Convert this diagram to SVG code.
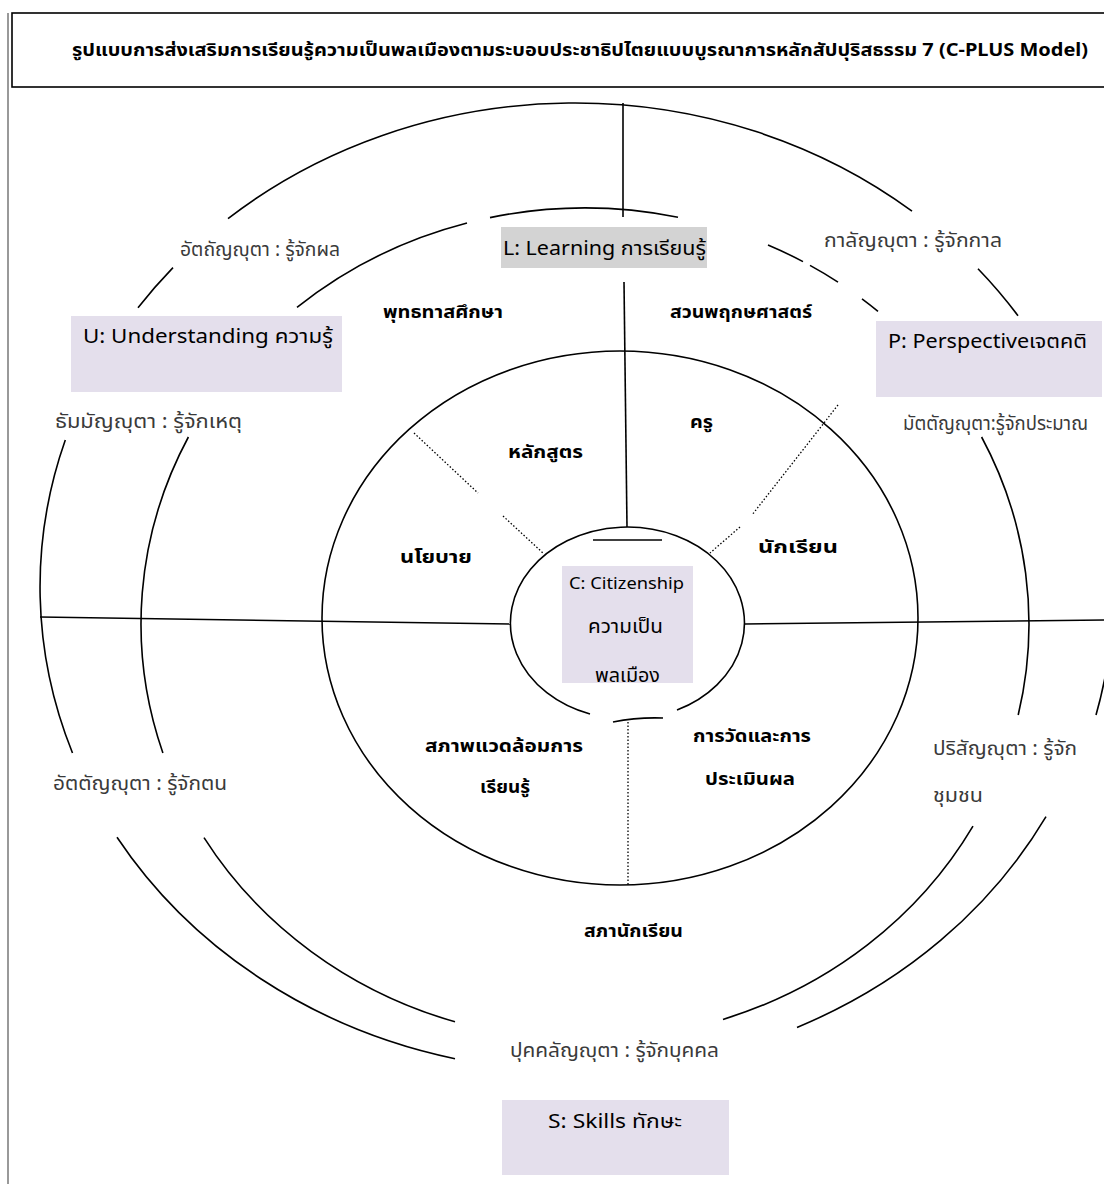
<svg xmlns="http://www.w3.org/2000/svg" width="1104" height="1184" viewBox="0 0 1104 1184">
<style>
.ln{fill:none;stroke:#000;stroke-width:1.6}
.dot{fill:none;stroke:#000;stroke-width:1.3;stroke-dasharray:1.5 2}
.t{font-family:"Noto Sans","Noto Sans Thai","DejaVu Sans",sans-serif;fill:#000}
.b{font-weight:bold;font-size:18px}
.g{fill:#3a3a3a;font-size:19px}
.box{fill:#e4dfec}
.m{text-anchor:middle}
</style>
<rect width="1104" height="1184" fill="#fff"/>
<line x1="8" y1="13" x2="8" y2="1184" stroke="#777" stroke-width="1.5"/>
<g id="title">
<rect x="12" y="13" width="1100" height="74" fill="#fff" stroke="#000" stroke-width="1.6"/>
<text class="t" x="72" y="56" font-size="18" font-weight="bold" textLength="1016" lengthAdjust="spacingAndGlyphs">รูปแบบการส่งเสริมการเรียนรู้ความเป็นพลเมืองตามระบอบประชาธิปไตยแบบบูรณาการหลักสัปปุริสธรรม 7 (C-PLUS Model)</text>
</g>
<g id="connectors">
<path class="ln" d="M228 218.6 A535 484 0 0 1 912 211.1"/>
<path class="ln" d="M173 267.6 A535 484 0 0 0 138 307.8"/>
<path class="ln" d="M978 268.7 A535 484 0 0 1 1018 315.7"/>
<path class="ln" d="M65.3 440 A535 484 0 0 0 72.5 753"/>
<path class="ln" d="M117 837.2 A535 484 0 0 0 455 1058.7"/>
<path class="ln" d="M797 1027.4 A535 484 0 0 0 1046 816.6"/>
<path class="ln" d="M1106 672 Q1102 694 1096 715"/>
<path class="ln" d="M297 307.4 A444 416 0 0 1 467 223"/>
<path class="ln" d="M490 217.6 A444 416 0 0 1 678 217.2"/>
<path class="ln" d="M768 245 A444 416 0 0 1 803 261.6"/>
<path class="ln" d="M810 265.4 A444 416 0 0 1 838 282.1"/>
<path class="ln" d="M862 298.9 A444 416 0 0 1 878 311.4"/>
<path class="ln" d="M188.4 437 A444 416 0 0 0 162.9 753"/>
<path class="ln" d="M204 837.6 A444 416 0 0 0 455 1021.8"/>
<path class="ln" d="M723 1019.4 A444 416 0 0 0 973 826.2"/>
<path class="ln" d="M981.6 437 A444 416 0 0 1 1018.2 715"/>
<ellipse class="ln" cx="620" cy="618" rx="298" ry="267"/>
<path class="ln" d="M590 714 A117 96 0 1 1 677 710"/>
<path class="ln" d="M613 722 Q638 717 663 718"/>
<line class="ln" x1="593" y1="540" x2="662" y2="540"/>
<line class="ln" x1="623" y1="103" x2="623" y2="217"/>
<line class="ln" x1="624" y1="282" x2="627" y2="527"/>
<line class="ln" x1="40" y1="617" x2="511" y2="624"/>
<line class="ln" x1="745" y1="624" x2="1104" y2="620"/>
<line class="dot" x1="414" y1="433" x2="478" y2="493"/>
<line class="dot" x1="503" y1="516" x2="543" y2="553"/>
<line class="dot" x1="838" y1="405" x2="752" y2="515"/>
<line class="dot" x1="740" y1="527" x2="710" y2="553"/>
<line class="dot" x1="628" y1="722" x2="628" y2="885"/>
</g>
<g id="node-L">
<rect x="501" y="227" width="206" height="41" fill="#d3d3d3"/>
<text class="t" x="503" y="255" font-size="20" textLength="203" lengthAdjust="spacingAndGlyphs">L: Learning การเรียนรู้</text>
</g>
<g id="node-U">
<rect class="box" x="71" y="316" width="271" height="76"/>
<text class="t" x="83" y="343" font-size="20" textLength="250" lengthAdjust="spacingAndGlyphs">U: Understanding ความรู้</text>
</g>
<g id="node-P">
<rect class="box" x="876" y="321" width="226" height="76"/>
<text class="t" x="888" y="348" font-size="20" textLength="199" lengthAdjust="spacingAndGlyphs">P: Perspectiveเจตคติ</text>
</g>
<g id="node-S">
<rect class="box" x="502" y="1100" width="227" height="75"/>
<text class="t" x="548" y="1128" font-size="20" textLength="134" lengthAdjust="spacingAndGlyphs">S: Skills ทักษะ</text>
</g>
<g id="node-C">
<rect class="box" x="562" y="566" width="131" height="117"/>
<text class="t" x="569" y="589" font-size="17" textLength="115" lengthAdjust="spacingAndGlyphs">C: Citizenship</text>
<text class="t" x="588" y="633" font-size="19" fill="#333" textLength="75" lengthAdjust="spacingAndGlyphs">ความเป็น</text>
<text class="t" x="595" y="682" font-size="19" fill="#333" textLength="65" lengthAdjust="spacingAndGlyphs">พลเมือง</text>
</g>
<g id="labels-outer">
<text class="t g" x="180" y="256" textLength="160" lengthAdjust="spacingAndGlyphs">อัตถัญญุตา : รู้จักผล</text>
<text class="t g" x="824" y="247" textLength="178" lengthAdjust="spacingAndGlyphs">กาลัญญุตา : รู้จักกาล</text>
<text class="t g" x="55" y="428" textLength="187" lengthAdjust="spacingAndGlyphs">ธัมมัญญุตา : รู้จักเหตุ</text>
<text class="t g" x="903" y="430" textLength="185" lengthAdjust="spacingAndGlyphs">มัตตัญญุตา:รู้จักประมาณ</text>
<text class="t g" x="53" y="790" textLength="174" lengthAdjust="spacingAndGlyphs">อัตตัญญุตา : รู้จักตน</text>
<text class="t g" x="933" y="755" textLength="144" lengthAdjust="spacingAndGlyphs">ปริสัญญุตา : รู้จัก</text>
<text class="t g" x="933" y="802" textLength="50" lengthAdjust="spacingAndGlyphs">ชุมชน</text>
<text class="t g" x="510" y="1057" textLength="209" lengthAdjust="spacingAndGlyphs">ปุคคลัญญุตา : รู้จักบุคคล</text>
</g>
<g id="labels-inner">
<text class="t b" x="383" y="318" textLength="120" lengthAdjust="spacingAndGlyphs">พุทธทาสศึกษา</text>
<text class="t b" x="670" y="318" textLength="142" lengthAdjust="spacingAndGlyphs">สวนพฤกษศาสตร์</text>
<text class="t b" x="508" y="458" textLength="75" lengthAdjust="spacingAndGlyphs">หลักสูตร</text>
<text class="t b" x="690" y="428" textLength="23" lengthAdjust="spacingAndGlyphs">ครู</text>
<text class="t b" x="400" y="563" textLength="72" lengthAdjust="spacingAndGlyphs">นโยบาย</text>
<text class="t b" x="758" y="553" textLength="80" lengthAdjust="spacingAndGlyphs">นักเรียน</text>
<text class="t b" x="425" y="752" textLength="158" lengthAdjust="spacingAndGlyphs">สภาพแวดล้อมการ</text>
<text class="t b" x="480" y="793" textLength="50" lengthAdjust="spacingAndGlyphs">เรียนรู้</text>
<text class="t b" x="693" y="742" textLength="118" lengthAdjust="spacingAndGlyphs">การวัดและการ</text>
<text class="t b" x="705" y="785" textLength="90" lengthAdjust="spacingAndGlyphs">ประเมินผล</text>
<text class="t b" x="584" y="937" textLength="99" lengthAdjust="spacingAndGlyphs">สภานักเรียน</text>
</g>
</svg>
